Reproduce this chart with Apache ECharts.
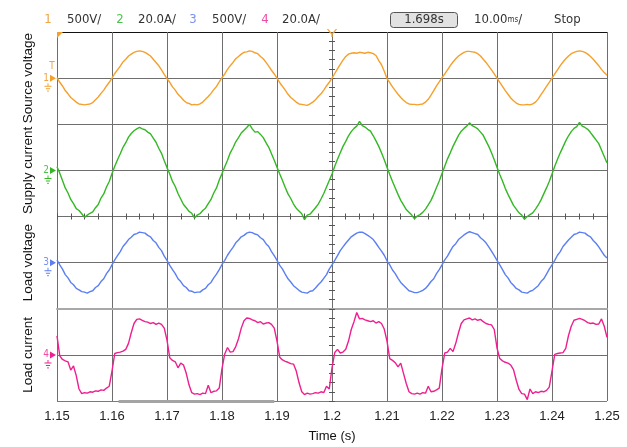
<!DOCTYPE html>
<html>
<head>
<meta charset="utf-8">
<script src="https://cdn.jsdelivr.net/npm/echarts@6/dist/echarts.min.js"></script>
<style>
  html, body { margin: 0; padding: 0; background: #fff; }
  #chart { width: 627px; height: 447px; }
</style>
</head>
<body>
<div id="chart"></div>
<script>
// Sampling of the four scope channels: one sample every 0.5 ms from 1.150 s to 1.250 s.
// Values are in screen divisions relative to each channel's ground level.
const T_START = 1.15;
const T_END = 1.25;
const T_STEP = 0.0005;
const T_TRIGGER = 1.2;
const TRIGGER_LEVEL = 0.26;          // ch1 trigger level marker (div)
const ZOOM_WINDOW = [1.1612, 1.1895]; // zoom window indicator along the bottom edge

const channelNames = ['Source voltage', 'Supply current', 'Load voltage', 'Load current'];
const channelScales = ['500V/', '20.0A/', '500V/', '20.0A/'];
const channelColors = ['#f5a02a', '#33b824', '#5b7ff2', '#ee1f8f'];
const channelTextColors = ['#f0a448', '#4cc44c', '#7892f0', '#f04aa6'];
const timebaseText = '10.00';
const acqTime = '1.698s';
const runState = 'Stop';

const sourceVoltage = [
  0.01, -0.09, -0.17, -0.27, -0.34, -0.42, -0.47, -0.52, -0.56, -0.57, -0.58, -0.57, -0.56, -0.53, -0.47, -0.41, -0.33, -0.26, -0.17, -0.09,
  0.00, 0.10, 0.18, 0.26, 0.35, 0.41, 0.48, 0.52, 0.56, 0.58, 0.59, 0.58, 0.56, 0.52, 0.48, 0.41, 0.34, 0.27, 0.18, 0.08,
  -0.01, -0.09, -0.19, -0.26, -0.35, -0.41, -0.48, -0.53, -0.55, -0.58, -0.57, -0.58, -0.56, -0.52, -0.46, -0.40, -0.33, -0.25, -0.18, -0.08,
  0.01, 0.09, 0.19, 0.27, 0.34, 0.42, 0.47, 0.52, 0.56, 0.57, 0.59, 0.58, 0.55, 0.53, 0.47, 0.42, 0.34, 0.26, 0.17, 0.09,
  0.00, -0.10, -0.18, -0.26, -0.35, -0.42, -0.47, -0.52, -0.56, -0.57, -0.58, -0.59, -0.56, -0.52, -0.47, -0.40, -0.34, -0.26, -0.17, -0.09,
  0.00, 0.10, 0.20, 0.30, 0.39, 0.47, 0.52, 0.54, 0.55, 0.54, 0.56, 0.55, 0.54, 0.56, 0.55, 0.53, 0.49, 0.38, 0.29, 0.15,
  -0.01, -0.10, -0.19, -0.27, -0.35, -0.42, -0.48, -0.53, -0.56, -0.57, -0.57, -0.58, -0.57, -0.56, -0.52, -0.46, -0.37, -0.27, -0.17, -0.08,
  0.01, 0.09, 0.18, 0.27, 0.35, 0.42, 0.48, 0.52, 0.56, 0.58, 0.58, 0.57, 0.56, 0.53, 0.48, 0.41, 0.34, 0.26, 0.18, 0.09,
  0.00, -0.09, -0.18, -0.27, -0.35, -0.43, -0.49, -0.54, -0.57, -0.58, -0.58, -0.57, -0.58, -0.56, -0.52, -0.45, -0.36, -0.27, -0.18, -0.09,
  0.00, 0.09, 0.18, 0.27, 0.35, 0.42, 0.48, 0.53, 0.56, 0.58, 0.59, 0.58, 0.56, 0.52, 0.47, 0.41, 0.34, 0.27, 0.19, 0.12,
  0.06
];

const supplyCurrent = [
  0.08, -0.06, -0.22, -0.38, -0.49, -0.63, -0.72, -0.83, -0.87, -0.94, -1.02, -0.97, -0.93, -0.90, -0.81, -0.74, -0.60, -0.51, -0.36, -0.24,
  -0.07, 0.09, 0.23, 0.36, 0.50, 0.60, 0.72, 0.80, 0.86, 0.90, 0.93, 0.90, 0.88, 0.83, 0.79, 0.70, 0.61, 0.48, 0.37, 0.21,
  0.06, -0.08, -0.24, -0.35, -0.50, -0.62, -0.74, -0.81, -0.89, -0.93, -1.03, -0.97, -0.94, -0.87, -0.82, -0.72, -0.63, -0.49, -0.38, -0.21,
  -0.07, 0.08, 0.22, 0.38, 0.49, 0.62, 0.71, 0.81, 0.87, 0.93, 1.00, 0.90, 0.83, 0.84, 0.78, 0.71, 0.60, 0.50, 0.36, 0.22,
  0.07, -0.08, -0.22, -0.37, -0.51, -0.61, -0.73, -0.82, -0.88, -0.94, -1.07, -0.97, -0.95, -0.88, -0.81, -0.73, -0.62, -0.50, -0.36, -0.22,
  -0.08, 0.09, 0.24, 0.38, 0.52, 0.63, 0.75, 0.84, 0.91, 0.96, 1.06, 0.97, 0.94, 0.89, 0.85, 0.75, 0.64, 0.52, 0.38, 0.23,
  0.07, -0.09, -0.24, -0.38, -0.52, -0.65, -0.75, -0.85, -0.91, -0.97, -1.05, -0.99, -0.96, -0.91, -0.84, -0.75, -0.65, -0.52, -0.37, -0.23,
  -0.07, 0.09, 0.25, 0.38, 0.52, 0.64, 0.76, 0.85, 0.91, 0.96, 1.03, 0.97, 0.94, 0.90, 0.83, 0.76, 0.64, 0.52, 0.38, 0.23,
  0.07, -0.09, -0.23, -0.39, -0.52, -0.64, -0.76, -0.84, -0.92, -0.97, -1.06, -1.00, -0.96, -0.92, -0.84, -0.75, -0.64, -0.51, -0.38, -0.24,
  -0.08, 0.09, 0.24, 0.38, 0.51, 0.64, 0.75, 0.84, 0.91, 0.95, 1.04, 0.96, 0.93, 0.89, 0.82, 0.74, 0.66, 0.58, 0.44, 0.30,
  0.16
];

const loadVoltage = [
  0.06, -0.05, -0.14, -0.26, -0.33, -0.43, -0.48, -0.56, -0.59, -0.63, -0.64, -0.66, -0.63, -0.61, -0.54, -0.50, -0.41, -0.35, -0.24, -0.16,
  -0.05, 0.06, 0.15, 0.24, 0.35, 0.42, 0.50, 0.55, 0.61, 0.63, 0.66, 0.65, 0.64, 0.59, 0.56, 0.48, 0.43, 0.33, 0.26, 0.14,
  0.05, -0.06, -0.15, -0.24, -0.35, -0.41, -0.50, -0.54, -0.61, -0.62, -0.65, -0.64, -0.64, -0.59, -0.56, -0.48, -0.43, -0.33, -0.25, -0.15,
  -0.04, 0.05, 0.16, 0.25, 0.33, 0.43, 0.49, 0.56, 0.59, 0.64, 0.66, 0.65, 0.62, 0.60, 0.54, 0.50, 0.41, 0.35, 0.24, 0.15,
  0.05, -0.06, -0.14, -0.25, -0.35, -0.42, -0.50, -0.55, -0.60, -0.64, -0.65, -0.66, -0.62, -0.61, -0.55, -0.48, -0.42, -0.34, -0.26, -0.14,
  -0.05, 0.05, 0.15, 0.26, 0.34, 0.42, 0.49, 0.56, 0.60, 0.64, 0.66, 0.66, 0.63, 0.59, 0.55, 0.50, 0.42, 0.33, 0.25, 0.16,
  0.04, -0.05, -0.16, -0.24, -0.34, -0.43, -0.49, -0.55, -0.61, -0.63, -0.65, -0.65, -0.63, -0.60, -0.56, -0.49, -0.41, -0.35, -0.24, -0.15,
  -0.05, 0.06, 0.14, 0.25, 0.35, 0.41, 0.50, 0.55, 0.60, 0.64, 0.67, 0.65, 0.63, 0.61, 0.54, 0.49, 0.43, 0.34, 0.25, 0.15,
  0.05, -0.05, -0.15, -0.26, -0.33, -0.43, -0.49, -0.56, -0.59, -0.64, -0.65, -0.66, -0.62, -0.60, -0.55, -0.50, -0.41, -0.35, -0.25, -0.14,
  -0.05, 0.05, 0.16, 0.24, 0.35, 0.42, 0.49, 0.55, 0.61, 0.63, 0.66, 0.65, 0.64, 0.59, 0.56, 0.48, 0.42, 0.34, 0.25, 0.16,
  0.10
];

const loadCurrent = [
  0.41, -0.02, -0.10, -0.13, -0.15, -0.33, -0.24, -0.45, -0.74, -0.84, -0.82, -0.83, -0.80, -0.81, -0.78, -0.79, -0.76, -0.77, -0.72, -0.68,
  -0.35, 0.03, 0.05, 0.06, 0.08, 0.12, 0.25, 0.48, 0.68, 0.77, 0.78, 0.75, 0.72, 0.71, 0.68, 0.70, 0.66, 0.69, 0.66, 0.58,
  0.32, -0.06, -0.12, -0.15, -0.28, -0.18, -0.22, -0.40, -0.65, -0.82, -0.85, -0.84, -0.86, -0.83, -0.84, -0.66, -0.82, -0.79, -0.78, -0.72,
  -0.30, 0.02, 0.16, 0.06, 0.07, 0.18, 0.35, 0.58, 0.74, 0.80, 0.79, 0.76, 0.74, 0.70, 0.72, 0.67, 0.69, 0.70, 0.66, 0.58,
  0.30, -0.05, -0.11, -0.14, -0.16, -0.19, -0.20, -0.35, -0.60, -0.80, -0.86, -0.83, -0.85, -0.84, -0.82, -0.83, -0.80, -0.82, -0.68, -0.74,
  -0.28, 0.05, 0.12, 0.04, 0.06, 0.12, 0.30, 0.55, 0.72, 0.92, 0.78, 0.79, 0.76, 0.74, 0.72, 0.74, 0.69, 0.72, 0.68, 0.56,
  0.30, -0.08, -0.12, -0.17, -0.26, -0.18, -0.40, -0.62, -0.80, -0.84, -0.85, -0.83, -0.85, -0.82, -0.83, -0.68, -0.80, -0.79, -0.76, -0.72,
  -0.30, 0.04, 0.06, 0.14, 0.07, 0.25, 0.48, 0.68, 0.76, 0.78, 0.80, 0.76, 0.78, 0.75, 0.77, 0.72, 0.68, 0.66, 0.65, 0.55,
  0.15, -0.08, -0.13, -0.16, -0.18, -0.22, -0.32, -0.55, -0.75, -0.84, -0.85, -0.97, -0.74, -0.84, -0.80, -0.82, -0.79, -0.80, -0.77, -0.70,
  -0.35, 0.01, 0.03, 0.04, 0.05, 0.14, 0.42, 0.62, 0.75, 0.77, 0.79, 0.77, 0.74, 0.70, 0.68, 0.69, 0.66, 0.67, 0.78, 0.62,
  0.38
];

const channelData = [sourceVoltage, supplyCurrent, loadVoltage, loadCurrent];

// ---- layout ----
const W = 627, H = 447;
const PLOT = { left: 57, right: 20, top: 32, bottom: 46 };
const PLOT_W = W - PLOT.left - PLOT.right;
const PANEL_H = (H - PLOT.top - PLOT.bottom) / 4;
const SANS = "'Liberation Sans', Arial, sans-serif";
const NARROW = "'Liberation Sans Narrow', 'DejaVu Sans Condensed', 'Liberation Sans', sans-serif";
const GRID_COLOR = '#6e6e6e';
const CLEAR = 'rgba(0,0,0,0)';

const times = sourceVoltage.map((_, i) => +(T_START + i * T_STEP).toFixed(4));

const grids = [0, 1, 2, 3].map(g => ({
  left: PLOT.left, right: PLOT.right, top: PLOT.top + g * PANEL_H, height: PANEL_H
}));

// main time axes (one per panel): vertical division lines, labels on the last one
const xAxes = [0, 1, 2, 3].map(g => ({
  type: 'value', gridIndex: g, position: 'bottom',
  min: T_START, max: T_END, interval: 0.01,
  axisLine: { show: false, onZero: false }, axisTick: { show: false },
  splitLine: { show: true, lineStyle: { color: GRID_COLOR, width: 1 } },
  axisLabel: g === 3
    ? { show: true, fontSize: 13, color: '#222', fontFamily: SANS, margin: 9 }
    : { show: false },
  name: g === 3 ? 'Time (s)' : '',
  nameLocation: 'middle', nameGap: 29,
  nameTextStyle: { fontSize: 13, color: '#111', fontFamily: SANS }
}));
// minor ticks crossing the screen's horizontal centre line
xAxes.push({
  type: 'value', gridIndex: 2, position: 'top', offset: -3,
  min: T_START, max: T_END, interval: 0.0025,
  axisLine: { show: false, onZero: false }, axisLabel: { show: false }, splitLine: { show: false },
  axisTick: { show: true, length: 6, lineStyle: { color: '#555', width: 1 } }
});
// separator between load voltage and load current panels
xAxes.push({
  type: 'value', gridIndex: 3, position: 'top',
  min: T_START, max: T_END,
  axisLine: { show: true, onZero: false, lineStyle: { color: '#a8a8a8', width: 2 } },
  axisTick: { show: false }, axisLabel: { show: false }, splitLine: { show: false }
});

const splitColors = [
  [GRID_COLOR, GRID_COLOR, '#111'],
  [GRID_COLOR, GRID_COLOR, GRID_COLOR],
  [CLEAR, GRID_COLOR, GRID_COLOR],
  ['#7a7a7a', GRID_COLOR, CLEAR]
];

const yAxes = [0, 1, 2, 3].map(g => ({
  type: 'value', gridIndex: g, position: 'left',
  min: -1, max: 1, interval: 1,
  axisLine: { show: false, onZero: false }, axisTick: { show: false }, axisLabel: { show: false },
  splitLine: { show: true, lineStyle: { color: splitColors[g], width: 1 } },
  name: channelNames[g], nameLocation: 'middle', nameGap: 22,
  nameTextStyle: { fontSize: 13.5, color: '#111', fontFamily: SANS }
}));
// minor ticks on the vertical centre line (trigger time)
[0, 1, 2, 3].forEach(g => yAxes.push({
  type: 'value', gridIndex: g, position: 'left', offset: -(PLOT_W / 2 + 3),
  min: -1, max: 1, interval: 0.2,
  axisLine: { show: false, onZero: false }, axisLabel: { show: false }, splitLine: { show: false },
  axisTick: { show: true, length: 6, lineStyle: { color: '#555', width: 1 } }
}));

function channelMarkers(idx) {
  const color = channelColors[idx];
  const txt = channelTextColors[idx];
  const marks = [
    { coord: [T_START, 0], symbol: 'path://M0,0L10,5L0,10Z', symbolSize: [6, 7], symbolOffset: [-4, 0],
      itemStyle: { color: color },
      label: { show: true, formatter: String(idx + 1), position: 'left', distance: 1,
               color: txt, fontSize: 10, fontFamily: NARROW } },
    { coord: [T_START, 0], symbol: 'path://M5,0L5,4M0,4L10,4M2,7L8,7M4,10L6,10', symbolSize: [7, 8],
      symbolOffset: [-9, 9], itemStyle: { color: 'none', borderColor: color, borderWidth: 1 },
      label: { show: false } }
  ];
  if (idx === 0) {
    marks.push(
      { coord: [T_START, TRIGGER_LEVEL], symbol: 'rect', symbolSize: 1, itemStyle: { color: CLEAR },
        label: { show: true, formatter: 'T', position: 'inside', offset: [-5, 0],
                 color: txt, fontSize: 10, fontFamily: NARROW } },
      { coord: [T_START, 1], symbol: 'path://M0,0L10,0L0,10Z', symbolSize: [6, 6], symbolOffset: [3, 3],
        itemStyle: { color: color }, label: { show: false } },
      { coord: [T_TRIGGER, 1], symbol: 'path://M0,0L5,6L10,0M5,6L5,9', symbolSize: [9, 8], symbolOffset: [0, 1],
        itemStyle: { color: 'none', borderColor: color, borderWidth: 1.2 }, label: { show: false } }
    );
  }
  return { silent: true, animation: false, data: marks };
}

const series = channelData.map((vals, g) => {
  const s = {
    type: 'line', name: channelNames[g],
    xAxisIndex: g, yAxisIndex: g,
    data: vals.map((v, i) => [times[i], v]),
    symbol: 'none', showSymbol: false, clip: false, z: 3,
    lineStyle: { color: channelColors[g], width: 1.4 },
    markPoint: channelMarkers(g)
  };
  if (g === 3) {
    // zoom window bar lying on the bottom edge of the screen
    s.markLine = {
      silent: true, animation: false, symbol: ['none', 'none'], label: { show: false },
      lineStyle: { color: '#a4a4a4', width: 3, type: 'solid', opacity: 1 },
      emphasis: { disabled: true },
      data: [[{ coord: [ZOOM_WINDOW[0], -1] }, { coord: [ZOOM_WINDOW[1], -1] }]]
    };
  }
  return s;
});

// status line above the screen
const headerY = 20;
const header = [];
const headerSlots = [[48, 67], [120, 138], [193, 212], [265, 282]];
channelScales.forEach((sc, i) => {
  header.push({ type: 'text', x: headerSlots[i][0], y: headerY,
    style: { text: String(i + 1), fill: channelTextColors[i], font: '13px ' + NARROW, textAlign: 'center', textVerticalAlign: 'middle' } });
  header.push({ type: 'text', x: headerSlots[i][1], y: headerY,
    style: { text: sc, fill: '#333', font: '13px ' + NARROW, textAlign: 'left', textVerticalAlign: 'middle' } });
});
header.push({ type: 'rect', shape: { x: 390.5, y: 12.5, width: 67, height: 15, r: 3 },
  style: { fill: '#e2e2e2', stroke: '#555', lineWidth: 1 } });
header.push({ type: 'text', x: 424, y: headerY,
  style: { text: acqTime, fill: '#333', font: '13px ' + NARROW, textAlign: 'center', textVerticalAlign: 'middle' } });
header.push({ type: 'text', x: 474, y: headerY,
  style: { text: timebaseText + '{u|ms}/', fill: '#333', font: '13px ' + NARROW, textAlign: 'left', textVerticalAlign: 'middle',
           rich: { u: { fontSize: 8, fontFamily: NARROW, fill: '#333' } } } });
header.push({ type: 'text', x: 554, y: headerY,
  style: { text: runState, fill: '#333', font: '13px ' + NARROW, textAlign: 'left', textVerticalAlign: 'middle' } });

const chart = echarts.init(document.getElementById('chart'), null, { renderer: 'canvas' });
chart.setOption({
  animation: false,
  backgroundColor: '#ffffff',
  grid: grids,
  xAxis: xAxes,
  yAxis: yAxes,
  series: series,
  graphic: header
});
</script>
</body>
</html>
